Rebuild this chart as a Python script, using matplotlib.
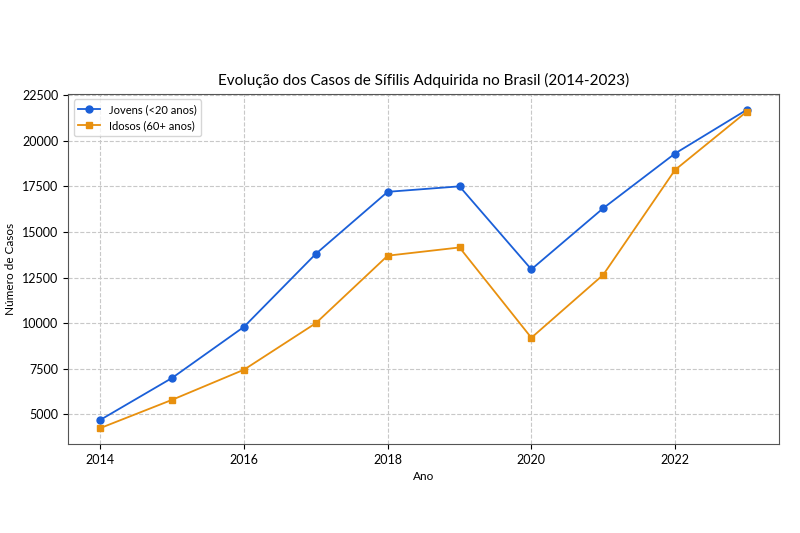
import matplotlib
matplotlib.use("Agg")
import matplotlib.pyplot as plt

# Data
anos = [2014, 2015, 2016, 2017, 2018, 2019, 2020, 2021, 2022, 2023]
jovens = [4700, 7000, 9800, 13800, 17200, 17500, 12950, 16300, 19300, 21700]
idosos = [4250, 5800, 7450, 10000, 13700, 14150, 9200, 12650, 18400, 21600]

plt.rcParams['font.family'] = ['Lato', 'DejaVu Sans']

fig, ax = plt.subplots(figsize=(8, 5.33), dpi=100)
plt.subplots_adjust(left=0.085, right=0.974, top=0.824, bottom=0.167)

ax.plot(anos, jovens, marker='o', markersize=5, linewidth=1.3,
        color='#1a5fd8', label='Jovens (<20 anos)')
ax.plot(anos, idosos, marker='s', markersize=5, linewidth=1.3,
        color='#e8900e', label='Idosos (60+ anos)')

ax.set_title('Evolução dos Casos de Sífilis Adquirida no Brasil (2014-2023)', fontsize=11)
ax.set_xlabel('Ano', fontsize=8.5)
ax.set_ylabel('Número de Casos', fontsize=8.5)
ax.tick_params(labelsize=9)
ax.set_xticks([2014, 2016, 2018, 2020, 2022])
ax.grid(True, linestyle='--', color='#c8c8c8', linewidth=0.8)
for s in ax.spines.values():
    s.set_color('#555555')
ax.legend(loc='upper left', fontsize=8)

fig.savefig('out.png', dpi=100)
